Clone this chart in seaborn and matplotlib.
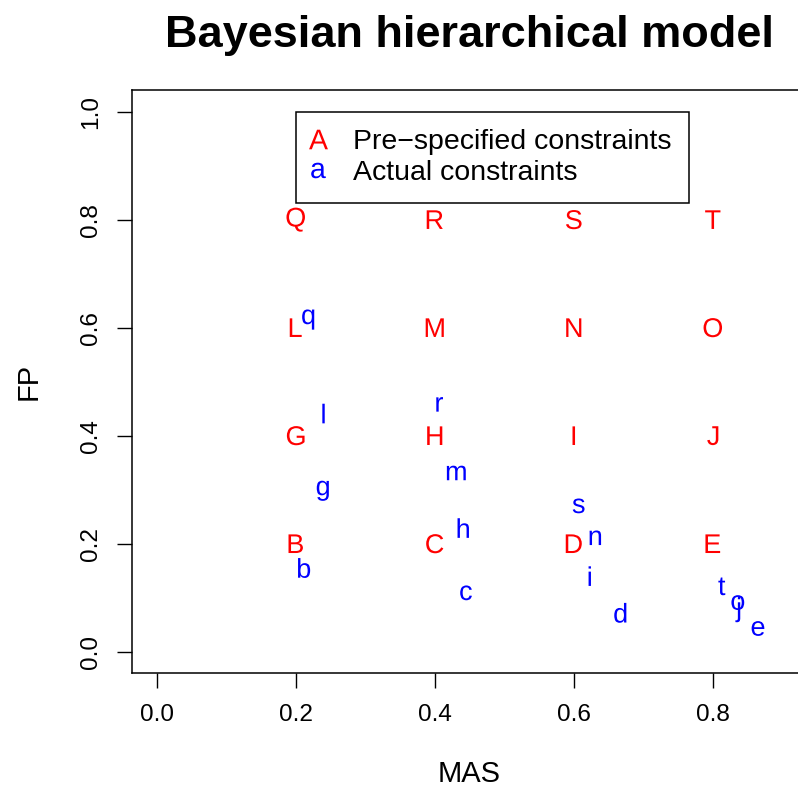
import numpy as np
import pandas as pd
import matplotlib
matplotlib.use("Agg")
import matplotlib.pyplot as plt
from matplotlib.lines import Line2D
from matplotlib.textpath import TextPath
import seaborn as sns

# Pre-specified constraints (red, upper case letters)
pre_labels = ["B", "C", "D", "E", "G", "H", "I", "J",
              "L", "M", "N", "O", "Q", "R", "S", "T"]
pre_mas = [0.2, 0.4, 0.6, 0.8, 0.2, 0.4, 0.6, 0.8,
           0.2, 0.4, 0.6, 0.8, 0.2, 0.4, 0.6, 0.8]
pre_fp = [0.2, 0.2, 0.2, 0.2, 0.4, 0.4, 0.4, 0.4,
          0.6, 0.6, 0.6, 0.6, 0.8, 0.8, 0.8, 0.8]

# Actual constraints estimated by the model (blue, lower case letters)
act_labels = ["b", "c", "d", "e", "g", "h", "i", "j",
              "l", "m", "n", "o", "q", "r", "s", "t"]
act_mas = [0.212, 0.445, 0.667, 0.865, 0.239, 0.441, 0.623, 0.836,
           0.240, 0.431, 0.631, 0.836, 0.218, 0.407, 0.607, 0.813]
act_fp = [0.155, 0.109, 0.072, 0.043, 0.298, 0.229, 0.140, 0.078,
          0.441, 0.331, 0.211, 0.091, 0.615, 0.458, 0.270, 0.121]

x_ticks = [0.0, 0.2, 0.4, 0.6, 0.8]
x_tick_labels = ["0.0", "0.2", "0.4", "0.6", "0.8"]
y_ticks = [0.0, 0.2, 0.4, 0.6, 0.8, 1.0]
y_tick_labels = ["0.0", "0.2", "0.4", "0.6", "0.8", "1.0"]

legend_symbols = ["A", "a"]
legend_labels = ["Pre\u2212specified constraints", "Actual constraints"]
RED, BLUE = "#FF0000", "#0000FF"

sns.set_theme(style="white")
plt.rcParams.update({
    "font.family": ["Liberation Sans", "DejaVu Sans"],
    "text.color": "black",
    "axes.labelcolor": "black",
    "axes.edgecolor": "black",
    "xtick.color": "black",
    "ytick.color": "black",
    "mathtext.fontset": "custom",
    "mathtext.rm": "Liberation Sans",
    "mathtext.it": "Liberation Sans",
    "mathtext.bf": "Liberation Sans:bold",
    "mathtext.default": "rm",
})

LETTER_PT = 19.5
LEGEND_PT = 20.5


def glyph_size(ch, pt):
    """Largest ink dimension (points) of a letter drawn at `pt`."""
    ext = TextPath((0, 0), f"${ch}$", size=pt).get_extents()
    return max(ext.width, ext.height)


df = pd.DataFrame({
    "MAS": pre_mas + act_mas,
    "FP": pre_fp + act_fp,
    "label": pre_labels + act_labels,
    "kind": ["Pre-specified"] * len(pre_labels) + ["Actual"] * len(act_labels),
})
markers = {c: f"${c}$" for c in df["label"]}
sizes = {c: glyph_size(c, LETTER_PT) ** 2 for c in df["label"]}

fig = plt.figure(figsize=(7.98, 7.93), dpi=100)
ax = fig.add_axes([0.1650, 0.1509, 0.8467, 0.7356])

sns.scatterplot(
    data=df, x="MAS", y="FP",
    hue="kind", palette={"Pre-specified": RED, "Actual": BLUE},
    style="label", markers=markers,
    size="label", sizes=sizes,
    linewidth=0, snap=False, legend=False, ax=ax,
)

ax.set_xlim(-0.036, 0.936)
ax.set_ylim(-0.04, 1.04)
ax.set_xticks(x_ticks)
ax.set_xticklabels(x_tick_labels)
ax.set_yticks(y_ticks)
ax.set_yticklabels(y_tick_labels, rotation=90, va="center")

for sp in ax.spines.values():
    sp.set_color("black")
    sp.set_linewidth(1.1)
ax.tick_params(direction="out", length=10.8, width=1.0, color="black",
               labelsize=17.6, labelcolor="black", left=True, bottom=True)
ax.tick_params(axis="x", pad=11.5)
ax.tick_params(axis="y", pad=10.8)

ax.set_xlabel("MAS", fontsize=21, color="black")
ax.xaxis.label.set_va("baseline")
ax.xaxis.set_label_coords(0.5, -0.1864)
ax.set_ylabel("FP", fontsize=21, color="black")
ax.yaxis.label.set_va("baseline")
ax.yaxis.set_label_coords(-0.1402, 0.5)

ax.set_title("Bayesian hierarchical model", fontsize=32.5, fontweight="bold",
             y=1.0737, pad=0, va="baseline", color="black")

handles = [
    Line2D([], [], ls="none", marker=f"${s}$", color=col, markeredgewidth=0,
           markersize=glyph_size(s, LEGEND_PT))
    for s, col in zip(legend_symbols, [RED, BLUE])
]
leg = ax.legend(handles, legend_labels, loc="upper left",
                bbox_to_anchor=(0.2, 1.0), bbox_transform=ax.transData,
                fontsize=LEGEND_PT, frameon=True, fancybox=False,
                framealpha=1, edgecolor="black", borderpad=0.62,
                handlelength=0.34, handletextpad=1.05, labelspacing=0.16,
                borderaxespad=0, labelcolor="black")
leg.get_frame().set_linewidth(1.1)

fig.savefig("out.png", dpi=100)
